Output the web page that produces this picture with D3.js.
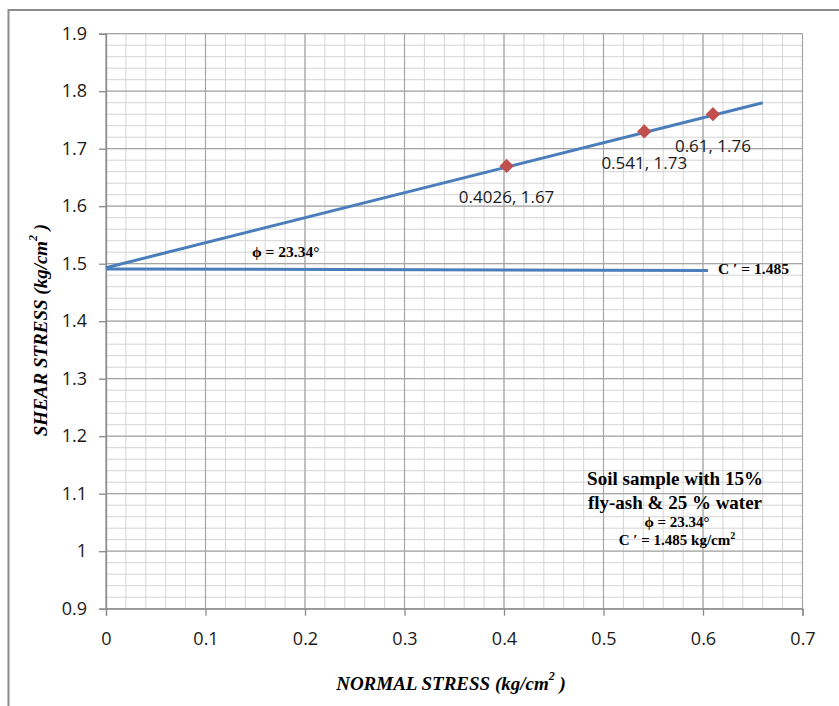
<!DOCTYPE html>
<html>
<head>
<meta charset="utf-8">
<script src="https://cdn.jsdelivr.net/npm/d3@7"></script>
<style>
  body { margin: 0; background: #fff; }
  svg { display: block; }
</style>
</head>
<body>
<figure class="chart" style="margin:0"></figure>
<script>
// data
const xTicks = [0, 0.1, 0.2, 0.3, 0.4, 0.5, 0.6, 0.7];
const yTicks = [0.9, 1, 1.1, 1.2, 1.3, 1.4, 1.5, 1.6, 1.7, 1.8, 1.9];
const pointX = [0.4026, 0.541, 0.61];
const pointY = [1.67, 1.73, 1.76];
const pointLabels = ['0.4026, 1.67', '0.541, 1.73', '0.61, 1.76'];
const trendX = [0, 0.66];
const trendY = [1.493, 1.78];
const cohesionX = [0, 0.605];
const cohesionY = [1.491, 1.488];
const phiText = 'ϕ = 23.34°';
const cText = 'C \u2032 = 1.485';
const boxLines = ['Soil sample with 15%', 'fly-ash & 25 % water', 'ϕ = 23.34°', 'C \u2032 = 1.485 kg/cm'];

const width = 839, height = 706;
const margin = {top: 33.7, right: 36.5, bottom: 97.3, left: 106};
const blue = '#4a7ebb', red = '#c0504d';
const serif = '"Liberation Serif", "Times New Roman", serif';
const sans = '"Open Sans", Calibri, sans-serif';

const svg = d3.select('figure.chart').append('svg')
  .attr('width', width).attr('height', height);

// outer chart frame (right/bottom fall outside the picture)
svg.append('rect')
  .attr('x', 8.5).attr('y', 10).attr('width', 850).attr('height', 720)
  .attr('fill', 'none').attr('stroke', '#8c8c8c').attr('stroke-width', 2);

const x = d3.scaleLinear().domain([0, 0.7]).range([margin.left, width - margin.right]);
const y = d3.scaleLinear().domain([0.9, 1.9]).range([height - margin.bottom, margin.top]);

// minor grid
const grid = svg.append('g');
grid.selectAll('.mx').data(x.ticks(35)).join('line')
  .attr('x1', d => x(d)).attr('x2', d => x(d))
  .attr('y1', y(0.9)).attr('y2', y(1.9))
  .attr('stroke', '#d4d4d4').attr('stroke-width', 1);
grid.selectAll('.my').data(y.ticks(50)).join('line')
  .attr('y1', d => y(d)).attr('y2', d => y(d))
  .attr('x1', x(0)).attr('x2', x(0.7))
  .attr('stroke', '#d4d4d4').attr('stroke-width', 1);
// major grid
grid.selectAll('.Mx').data(xTicks).join('line')
  .attr('x1', d => x(d)).attr('x2', d => x(d))
  .attr('y1', y(0.9)).attr('y2', y(1.9))
  .attr('stroke', '#a6a6a6').attr('stroke-width', 1.2);
grid.selectAll('.My').data(yTicks).join('line')
  .attr('y1', d => y(d)).attr('y2', d => y(d))
  .attr('x1', x(0)).attr('x2', x(0.7))
  .attr('stroke', '#a6a6a6').attr('stroke-width', 1.2);

// axes
const xAxis = svg.append('g')
  .attr('transform', `translate(0,${y(0.9)})`)
  .call(d3.axisBottom(x).tickValues(xTicks).tickSize(7).tickPadding(17).tickFormat(d3.format('')));
const yAxis = svg.append('g')
  .attr('transform', `translate(${x(0)},0)`)
  .call(d3.axisLeft(y).tickValues(yTicks).tickSize(7).tickPadding(12).tickFormat(d3.format('')));
[xAxis, yAxis].forEach(a => {
  a.select('.domain').attr('stroke', '#8a8a8a').attr('stroke-width', 1.3);
  a.selectAll('.tick line').attr('stroke', '#8a8a8a').attr('stroke-width', 1.3);
  a.selectAll('.tick text').attr('fill', '#1a1a1a').style('font-family', sans).style('font-size', '18px');
});

// lines
const line = d3.line().x(d => x(d[0])).y(d => y(d[1]));
svg.append('path').datum(d3.zip(cohesionX, cohesionY))
  .attr('d', line).attr('fill', 'none').attr('stroke', blue).attr('stroke-width', 3);
svg.append('path').datum(d3.zip(trendX, trendY))
  .attr('d', line).attr('fill', 'none').attr('stroke', blue).attr('stroke-width', 3);

// points
const pts = d3.zip(pointX, pointY, pointLabels);
svg.selectAll('.pt').data(pts).join('path')
  .attr('transform', d => `translate(${x(d[0])},${y(d[1])})`)
  .attr('d', d3.symbol(d3.symbolDiamond2, 130))
  .attr('fill', red);
svg.selectAll('.lbl').data(pts).join('text')
  .attr('x', d => x(d[0])).attr('y', d => y(d[1]) + 31)
  .attr('text-anchor', 'middle').attr('dominant-baseline', 'central')
  .style('font-family', sans).style('font-size', '17px').attr('fill', '#1a1a1a')
  .text(d => d[2]);

// annotations
svg.append('text').attr('x', 252).attr('y', 251)
  .attr('dominant-baseline', 'central')
  .style('font-family', serif).style('font-weight', 'bold').style('font-size', '15.5px')
  .text(phiText);
svg.append('text').attr('x', 718).attr('y', 268)
  .attr('dominant-baseline', 'central')
  .style('font-family', serif).style('font-weight', 'bold').style('font-size', '15.5px')
  .text(cText);

const box = svg.append('g').style('font-family', serif).style('font-weight', 'bold')
  .attr('text-anchor', 'middle');
const boxY = [478, 502, 522, 540];
const boxSize = [19, 19, 15, 15];
box.selectAll('text').data(boxLines).join('text')
  .attr('x', (d, i) => i < 2 ? 675 : 677).attr('y', (d, i) => boxY[i])
  .attr('dominant-baseline', 'central')
  .style('font-size', (d, i) => boxSize[i] + 'px')
  .text(d => d)
  .filter((d, i) => i === 3)
  .append('tspan').attr('dy', -5).style('font-size', '10px').text('2');

// axis titles
const xt = svg.append('text').attr('x', 451).attr('y', 683)
  .attr('text-anchor', 'middle').attr('dominant-baseline', 'central')
  .style('font-family', serif).style('font-weight', 'bold').style('font-style', 'italic')
  .style('font-size', '19px').text('NORMAL STRESS (kg/cm');
xt.append('tspan').attr('dy', -7).style('font-size', '12px').text('2');
xt.append('tspan').attr('dy', 7).text(' )');

const yt = svg.append('text')
  .attr('transform', 'translate(40,330) rotate(-90)')
  .attr('text-anchor', 'middle').attr('dominant-baseline', 'central')
  .style('font-family', serif).style('font-weight', 'bold').style('font-style', 'italic')
  .style('font-size', '19px').text('SHEAR STRESS (kg/cm');
yt.append('tspan').attr('dy', -7).style('font-size', '12px').text('2');
yt.append('tspan').attr('dy', 7).text(' )');
</script>
</body>
</html>
